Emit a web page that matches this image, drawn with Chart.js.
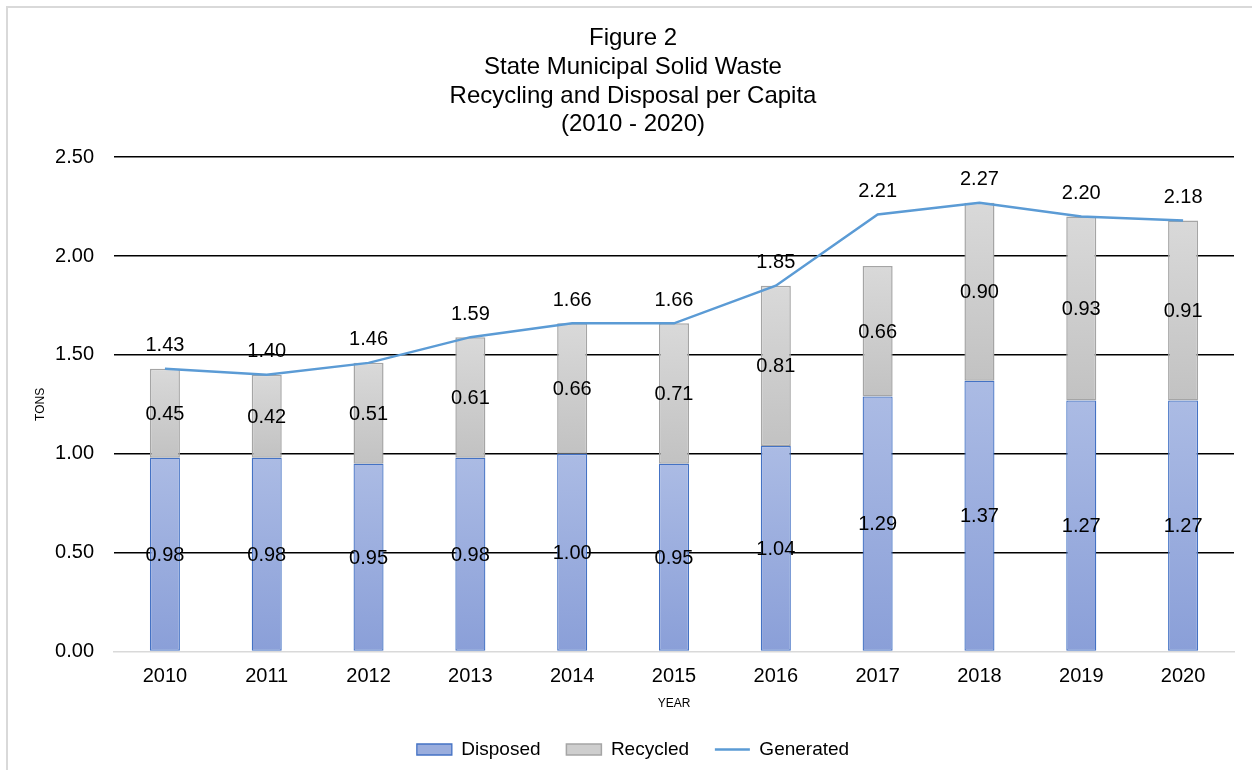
<!DOCTYPE html>
<html>
<head>
<meta charset="utf-8">
<script src="https://cdn.jsdelivr.net/npm/chart.js@4"></script>
<style>
  html, body { margin: 0; padding: 0; background: #fff; }
  #wrap { position: relative; width: 1252px; height: 770px; overflow: hidden; }
  #frame { position: absolute; left: 6px; top: 6px; width: 1300px; height: 820px;
           border: 2px solid #d9d9d9; pointer-events: none; }
  canvas { position: absolute; left: 0; top: 0; }
</style>
</head>
<body>
<div id="wrap">
  <canvas id="wasteChart" width="1252" height="770"></canvas>
  <div id="frame"></div>
</div>
<script>
// values
const years = ["2010", "2011", "2012", "2013", "2014", "2015", "2016", "2017", "2018", "2019", "2020"];
const disposed = [0.98, 0.98, 0.95, 0.98, 1.00, 0.95, 1.04, 1.29, 1.37, 1.27, 1.27];
const recycled = [0.45, 0.42, 0.51, 0.61, 0.66, 0.71, 0.81, 0.66, 0.90, 0.93, 0.91];
const generated = [1.43, 1.40, 1.46, 1.59, 1.66, 1.66, 1.85, 2.21, 2.27, 2.20, 2.18];
const yTicks = [0, 0.5, 1.0, 1.5, 2.0, 2.5];

const FONT = "'Liberation Sans', Arial, sans-serif";

// gradient from top to bottom of each bar segment
function barGradient(topColor, bottomColor, solid) {
  return (ctx) => {
    if (ctx.type !== 'data') return solid;
    const chart = ctx.chart;
    const y = chart.scales.y;
    if (!chart.chartArea || !y) return solid;
    const i = ctx.dataIndex;
    let lo, hi;
    if (ctx.datasetIndex === 0) { lo = 0; hi = disposed[i]; }
    else { lo = disposed[i]; hi = disposed[i] + recycled[i]; }
    const g = chart.ctx.createLinearGradient(0, y.getPixelForValue(hi), 0, y.getPixelForValue(lo));
    g.addColorStop(0, topColor);
    g.addColorStop(1, bottomColor);
    return g;
  };
}

// value labels (no datalabels plugin available offline)
const valueLabels = {
  id: 'valueLabels',
  afterDatasetsDraw(chart) {
    const ctx = chart.ctx;
    ctx.save();
    ctx.font = "20px " + FONT;
    ctx.fillStyle = '#000';
    ctx.textAlign = 'center';
    ctx.textBaseline = 'middle';
    chart.data.datasets.forEach((ds, di) => {
      const meta = chart.getDatasetMeta(di);
      meta.data.forEach((el, i) => {
        const txt = ds.data[i].toFixed(2);
        if (ds.type === 'line') {
          ctx.fillText(txt, el.x, el.y - 23);
        } else {
          ctx.fillText(txt, el.x, (el.y + el.base) / 2 + 1);
        }
      });
    });
    ctx.restore();
  }
};

new Chart(document.getElementById('wasteChart'), {
  data: {
    labels: years,
    datasets: [
      {
        type: 'bar',
        label: 'Disposed',
        data: disposed,
        backgroundColor: barGradient('#abbbe4', '#8a9fd8', '#9aaddd'),
        borderColor: '#4472c4',
        borderWidth: 1.3,
        borderSkipped: false,
        barPercentage: 0.295,
        categoryPercentage: 1,
        stack: 's'
      },
      {
        type: 'bar',
        label: 'Recycled',
        data: recycled,
        backgroundColor: barGradient('#d9d9d9', '#c2c2c2', '#cecece'),
        borderColor: '#a5a5a5',
        borderWidth: 1.5,
        borderSkipped: false,
        barPercentage: 0.295,
        categoryPercentage: 1,
        stack: 's'
      },
      {
        type: 'line',
        label: 'Generated',
        data: generated,
        borderColor: '#5b9bd5',
        backgroundColor: '#5b9bd5',
        borderWidth: 2.5,
        pointRadius: 0,
        tension: 0,
        order: -1
      }
    ]
  },
  options: {
    responsive: false,
    animation: false,
    layout: { padding: { left: 32, right: 18, top: 0, bottom: 1 } },
    plugins: {
      title: {
        display: true,
        text: ['Figure 2', 'State Municipal Solid Waste', 'Recycling and Disposal per Capita', '(2010 - 2020)'],
        color: '#000',
        font: { family: FONT, size: 24, weight: 'normal', lineHeight: 1.2 },
        padding: { top: 24, bottom: 18 }
      },
      legend: {
        position: 'bottom',
        labels: {
          usePointStyle: true,
          pointStyleWidth: 35,
          boxHeight: 11,
          padding: 10,
          color: '#000',
          font: { family: FONT, size: 19 },
          sort: (a, b) => a.datasetIndex - b.datasetIndex,
          generateLabels(chart) {
            const items = Chart.defaults.plugins.legend.labels.generateLabels(chart);
            items.forEach((it) => {
              if (it.datasetIndex === 0) {
                it.fillStyle = '#9aaddd'; it.strokeStyle = '#4472c4'; it.pointStyle = 'rect';
                it.text = it.text + '   ';
              } else if (it.datasetIndex === 1) {
                it.fillStyle = '#cecece'; it.strokeStyle = '#a5a5a5'; it.pointStyle = 'rect';
                it.text = it.text + '   ';
              } else {
                it.pointStyle = 'line'; it.lineWidth = 2.5; it.strokeStyle = '#5b9bd5';
              }
            });
            return items;
          }
        }
      },
      tooltip: { enabled: false }
    },
    scales: {
      x: {
        stacked: true,
        afterFit: (s) => { s.height -= 12; },
        grid: { display: false, drawTicks: false },
        border: { display: true, color: '#d9d9d9', width: 1.5 },
        ticks: { color: '#000', padding: 13, font: { family: FONT, size: 20 } },
        title: {
          display: true, text: 'YEAR', color: '#000',
          font: { family: FONT, size: 12 },
          padding: { top: 7, bottom: 19 }
        }
      },
      y: {
        stacked: true,
        min: 0,
        max: 2.5,
        afterFit: (s) => { s.width = 82; },
        afterBuildTicks: (s) => { s.ticks = yTicks.map((v) => ({ value: v })); },
        grid: {
          drawTicks: false,
          color: (c) => (c.tick && c.tick.value === 0 ? 'rgba(0,0,0,0)' : '#000'),
          lineWidth: 1.5
        },
        border: { display: false },
        ticks: {
          color: '#000', padding: 20,
          font: { family: FONT, size: 20 },
          callback: (v) => Number(v).toFixed(2)
        },
        title: {
          display: true, text: 'TONS', color: '#000',
          font: { family: FONT, size: 12 },
          padding: { top: 1, bottom: 0 }
        }
      }
    }
  },
  plugins: [valueLabels]
});
</script>
</body>
</html>
